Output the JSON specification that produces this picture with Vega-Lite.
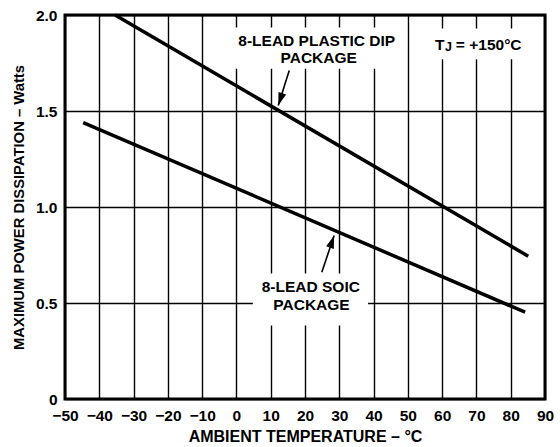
{
  "$schema": "https://vega.github.io/schema/vega-lite/v6.json",
  "width": 480,
  "height": 384,
  "autosize": {"type": "none"},
  "padding": {"left": 65, "top": 15, "right": 15, "bottom": 48},
  "background": "white",
  "config": {
    "view": {"stroke": "black", "strokeWidth": 3},
    "font": "Liberation Sans",
    "axis": {
      "grid": true,
      "gridColor": "black",
      "gridWidth": 1.4,
      "gridOpacity": 1,
      "domain": false,
      "ticks": false,
      "labelFont": "Liberation Sans",
      "labelFontWeight": "bold",
      "labelFontSize": 15.5,
      "labelColor": "black",
      "labelPadding": 8,
      "labelOverlap": false,
      "labelFlush": false,
      "labelBound": false,
      "titleFont": "Liberation Sans",
      "titleFontWeight": "bold",
      "titleFontSize": 16,
      "titleColor": "black"
    }
  },
  "datasets": {
    "curves": [
      {"series": "DIP", "T": -35.4, "P": 2.0},
      {"series": "DIP", "T": 85.1, "P": 0.744},
      {"series": "SOIC", "T": -44.7, "P": 1.44},
      {"series": "SOIC", "T": 84.2, "P": 0.452}
    ],
    "boxes": [
      {"name": "DIP label", "T": -6, "T2": 46, "P": 1.72, "P2": 1.935},
      {"name": "TJ label", "T": 56.5, "T2": 88, "P": 1.77, "P2": 1.93},
      {"name": "SOIC label", "T": 4.8, "T2": 38.4, "P": 0.383, "P2": 0.654}
    ],
    "arrows": [
      {"name": "DIP", "T": 12.2, "P": 1.529, "T2": 15.4, "P2": 1.711},
      {"name": "SOIC", "T": 28.5, "P": 0.852, "T2": 24.9, "P2": 0.66}
    ],
    "labels": [
      {"text": "8-LEAD PLASTIC DIP", "T": 23.4, "P": 1.867},
      {"text": "PACKAGE", "T": 24.0, "P": 1.777},
      {"text": "8-LEAD SOIC", "T": 21.7, "P": 0.582},
      {"text": "PACKAGE", "T": 21.9, "P": 0.49}
    ],
    "tj": [
      {"text": "T", "T": 57.9, "P": 1.819},
      {"text": "= +150°C", "T": 64.0, "P": 1.819}
    ],
    "tjsub": [
      {"text": "J", "T": 60.8, "P": 1.811}
    ]
  },
  "encoding": {
    "x": {
      "field": "T",
      "type": "quantitative",
      "scale": {"domain": [-50, 90], "nice": false, "zero": false},
      "axis": {
        "values": [-50, -40, -30, -20, -10, 0, 10, 20, 30, 40, 50, 60, 70, 80, 90],
        "title": "AMBIENT TEMPERATURE – °C",
        "labelPadding": 9,
        "titlePadding": 5
      }
    },
    "y": {
      "field": "P",
      "type": "quantitative",
      "scale": {"domain": [0, 2], "nice": false, "zero": false},
      "axis": {
        "values": [0, 0.5, 1, 1.5, 2],
        "labelExpr": "datum.value == 0 ? '0' : format(datum.value, '.1f')",
        "title": "MAXIMUM POWER DISSIPATION – Watts",
        "titleFontSize": 14.8,
        "titlePadding": 9
      }
    }
  },
  "layer": [
    {
      "data": {"name": "boxes"},
      "mark": {"type": "rect", "fill": "white", "strokeWidth": 0},
      "encoding": {"x2": {"field": "T2"}, "y2": {"field": "P2"}}
    },
    {
      "data": {"name": "curves"},
      "mark": {"type": "line", "color": "black", "strokeWidth": 3.5, "strokeCap": "butt"},
      "encoding": {"detail": {"field": "series"}}
    },
    {
      "data": {"name": "arrows"},
      "mark": {"type": "rule", "color": "black", "strokeWidth": 1.6},
      "encoding": {"x2": {"field": "T2"}, "y2": {"field": "P2"}}
    },
    {
      "data": {"name": "arrows"},
      "transform": [{"filter": "datum.name == 'DIP'"}],
      "mark": {"type": "point", "shape": "M0,0L0.5,1.6L-0.5,1.6Z", "filled": true, "color": "black", "opacity": 1, "size": 260, "angle": 198.5}
    },
    {
      "data": {"name": "arrows"},
      "transform": [{"filter": "datum.name == 'SOIC'"}],
      "mark": {"type": "point", "shape": "M0,0L0.5,1.6L-0.5,1.6Z", "filled": true, "color": "black", "opacity": 1, "size": 260, "angle": 18.9}
    },
    {
      "data": {"name": "labels"},
      "mark": {"type": "text", "font": "Liberation Sans", "fontWeight": "bold", "fontSize": 15.5, "color": "black", "align": "center", "baseline": "middle"},
      "encoding": {"text": {"field": "text"}}
    },
    {
      "data": {"name": "tj"},
      "mark": {"type": "text", "font": "Liberation Sans", "fontWeight": "bold", "fontSize": 15.5, "color": "black", "align": "left", "baseline": "alphabetic"},
      "encoding": {"text": {"field": "text"}}
    },
    {
      "data": {"name": "tjsub"},
      "mark": {"type": "text", "font": "Liberation Sans", "fontWeight": "bold", "fontSize": 12.5, "color": "black", "align": "left", "baseline": "alphabetic"},
      "encoding": {"text": {"field": "text"}}
    }
  ]
}
